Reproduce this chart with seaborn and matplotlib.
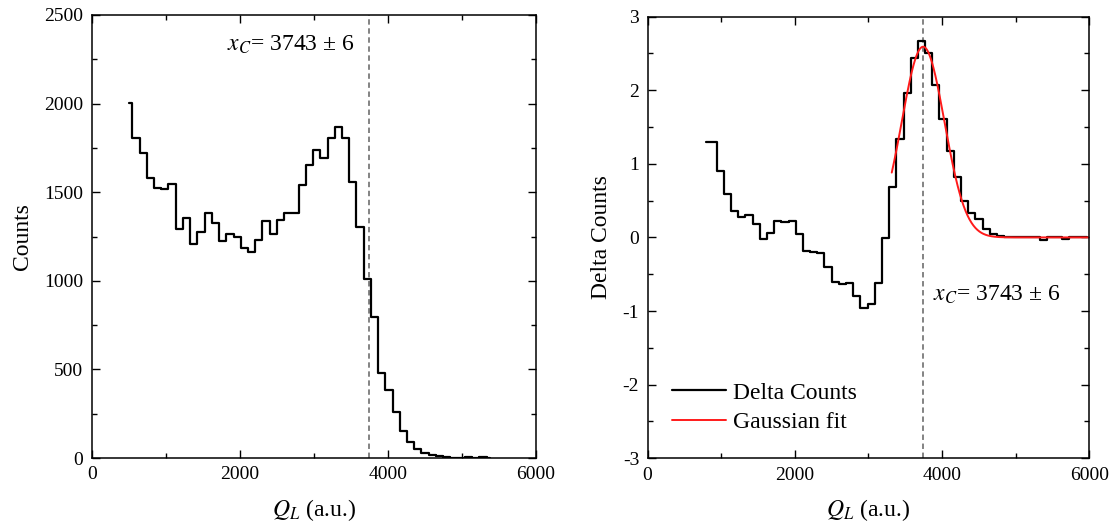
import numpy as np
import pandas as pd
import matplotlib
matplotlib.use("Agg")
import matplotlib.pyplot as plt
import seaborn as sns
from matplotlib.ticker import MultipleLocator

# bin grid of Q_L (a.u.)
bin_start = 500.0
bin_width = 97.6

# left panel: counts per bin, bins 0..50
counts = [2005, 1806, 1724, 1583, 1524, 1519, 1545, 1295, 1357, 1209,
          1276, 1382, 1329, 1224, 1265, 1245, 1186, 1160, 1233, 1338,
          1267, 1344, 1383, 1383, 1543, 1654, 1738, 1693, 1806, 1866,
          1806, 1558, 1301, 1008, 797, 478, 384, 262, 153, 93,
          49, 31, 18, 10, 4, 1, 1, 7, 3, 7, 2]

# right panel: delta counts, bins 3..56
delta_first_bin = 3
delta = [1.29, 1.29, 0.90, 0.585, 0.36, 0.28, 0.30, 0.18, -0.02, 0.065,
         0.225, 0.215, 0.22, 0.05, -0.19, -0.20, -0.215, -0.405, -0.605, -0.635,
         -0.615, -0.795, -0.96, -0.90, -0.615, -0.005, 0.69, 1.335, 1.965, 2.435,
         2.67, 2.50, 2.07, 1.605, 1.18, 0.825, 0.50, 0.335, 0.245, 0.115,
         0.045, 0.02, 0.005, 0.0, 0.0, 0.01, 0.0, -0.03, 0.0, 0.01,
         -0.02, 0.0, 0.0, 0.0]

# gaussian fit parameters
xc = 3743
xc_err = 6
fit_amp = 2.59
fit_sigma = 290.0
fit_from, fit_to = 3317, 6000

q_left = bin_start + bin_width * np.arange(len(counts))
q_right = bin_start + bin_width * (delta_first_bin + np.arange(len(delta)))
df_left = pd.DataFrame({"Q": q_left, "Counts": counts})
df_right = pd.DataFrame({"Q": q_right, "Delta": delta})
q_fit = np.linspace(fit_from, fit_to, 400)
df_fit = pd.DataFrame({"Q": q_fit,
                       "fit": fit_amp * np.exp(-(q_fit - xc) ** 2 / (2 * fit_sigma ** 2))})

sns.set_style("ticks")
plt.rcParams["font.family"] = ["Liberation Serif", "DejaVu Serif"]
plt.rcParams["mathtext.fontset"] = "stix"
plt.rcParams["axes.unicode_minus"] = False
plt.rcParams["axes.linewidth"] = 1.1
plt.rcParams["text.color"] = "black"
plt.rcParams["axes.labelcolor"] = "black"
plt.rcParams["xtick.color"] = "black"
plt.rcParams["ytick.color"] = "black"

fig = plt.figure(figsize=(11.17, 5.31), dpi=100)
ax1 = fig.add_axes([0.0821, 0.1373, 0.3978, 0.8345])
ax2 = fig.add_axes([0.5797, 0.1369, 0.3955, 0.8320])

sns.lineplot(data=df_left, x="Q", y="Counts", ax=ax1, color="black",
             lw=1.6, drawstyle="steps-mid")
sns.lineplot(data=df_right, x="Q", y="Delta", ax=ax2, color="black",
             lw=1.6, drawstyle="steps-mid", label="Delta Counts")
sns.lineplot(data=df_fit, x="Q", y="fit", ax=ax2, color="#ff1a1a",
             lw=1.4, label="Gaussian fit")

for ax in (ax1, ax2):
    ax.axvline(xc, color="#7a7a7a", lw=1.3, ls=(0, (3, 2)), zorder=1)
    ax.set_xlim(0, 6000)
    ax.xaxis.set_major_locator(MultipleLocator(2000))
    ax.xaxis.set_minor_locator(MultipleLocator(1000))
    ax.tick_params(which="both", direction="in", top=True, right=True,
                   labeltop=False, labelright=False, width=1.0)
    ax.tick_params(which="major", length=6, labelsize=14, pad=6)
    ax.tick_params(which="minor", length=3.5)
    ax.set_xlabel("$Q_L$ (a.u.)", fontsize=17, labelpad=10)
    for s in ax.spines.values():
        s.set_visible(True)
        s.set_color("black")

ax1.set_ylim(0, 2500)
ax1.yaxis.set_major_locator(MultipleLocator(500))
ax1.yaxis.set_minor_locator(MultipleLocator(250))
ax1.set_ylabel("Counts", fontsize=17, labelpad=8)
ax1.text(1830, 2330, f"$x_C$= {xc} ± {xc_err}", fontsize=17,
         va="center", ha="left")

ax2.set_ylim(-3, 3)
ax2.yaxis.set_major_locator(MultipleLocator(1))
ax2.yaxis.set_minor_locator(MultipleLocator(0.5))
ax2.set_ylabel("Delta Counts", fontsize=17, labelpad=8)
ax2.text(3880, -0.78, f"$x_C$= {xc} ± {xc_err}", fontsize=17,
         va="center", ha="left")
ax2.legend(loc="center left", bbox_to_anchor=(0.055, 0.115), frameon=False,
           fontsize=17, handlelength=2.3, handletextpad=0.3,
           labelspacing=0.32, borderpad=0, borderaxespad=0)

fig.savefig("out.png", dpi=100)
